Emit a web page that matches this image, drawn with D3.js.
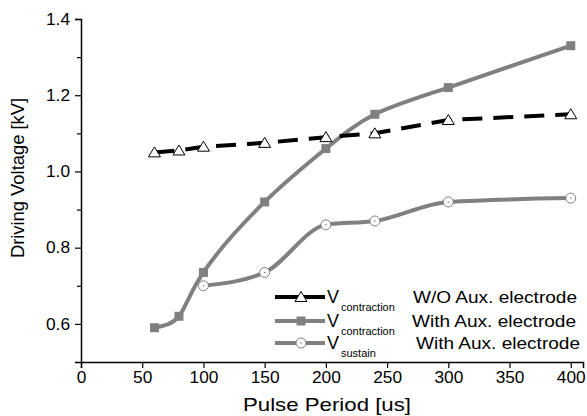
<!DOCTYPE html>
<html>
<head>
<meta charset="utf-8">
<script src="https://cdn.jsdelivr.net/npm/d3@7"></script>
<style>
  body { margin: 0; background: #fff; }
  svg text { font-family: "Liberation Sans", Arial, sans-serif; fill: #000; }
</style>
</head>
<body>
<div id="chart"></div>
<script>
// Data
const periodsA = [60, 80, 100, 150, 200, 240, 300, 400];
const contractionWO = [1.05, 1.055, 1.065, 1.075, 1.09, 1.10, 1.135, 1.15];
const contractionWith = [0.59, 0.62, 0.735, 0.92, 1.06, 1.15, 1.22, 1.33];
const periodsB = [100, 150, 200, 240, 300, 400];
const sustainWith = [0.70, 0.735, 0.86, 0.87, 0.92, 0.93];
const xTicks = [0, 50, 100, 150, 200, 250, 300, 350, 400];
const yTicks = [0.6, 0.8, 1.0, 1.2, 1.4];
const yMinor = [0.7, 0.9, 1.1, 1.3];
const legendLabels = [
  { sub: "contraction", note: "W/O Aux. electrode" },
  { sub: "contraction", note: "With Aux. electrode" },
  { sub: "sustain", note: "With Aux. electrode" }
];

const width = 587, height = 416;
const margin = { top: 19, right: 4, bottom: 54, left: 81 };

const svg = d3.select("#chart").append("svg")
  .attr("width", width).attr("height", height);

const x = d3.scaleLinear().domain([0, 410]).range([margin.left, width - margin.right]);
const y = d3.scaleLinear().domain([0.5, 1.4]).range([height - margin.bottom, margin.top]);

// the original's lettering is a little wider than Arial
function widen(sel, k) {
  sel.each(function () {
    const w = this.getComputedTextLength();
    d3.select(this).attr("textLength", w * k).attr("lengthAdjust", "spacingAndGlyphs");
  });
}

// axes
svg.append("g")
  .attr("transform", `translate(0,${y(0.5)})`)
  .call(d3.axisBottom(x).tickValues(xTicks).tickSize(6).tickPadding(4).tickFormat(d3.format("d")));
svg.append("g")
  .attr("transform", `translate(${x(0)},0)`)
  .call(d3.axisLeft(y).tickValues(yTicks).tickSize(6).tickPadding(5).tickFormat(d3.format(".1f")));
svg.append("g")
  .attr("transform", `translate(${x(0)},0)`)
  .call(d3.axisLeft(y).tickValues(yMinor).tickSize(4).tickFormat(""))
  .select(".domain").remove();

svg.selectAll(".domain").attr("stroke", "#000").attr("stroke-width", 1.5);
svg.selectAll(".tick line").attr("stroke", "#000").attr("stroke-width", 1.2);
svg.selectAll(".tick text").style("font-size", "16px").call(widen, 1.08);

svg.append("text")
  .attr("x", 327).attr("y", 411)
  .attr("text-anchor", "middle").style("font-size", "19px")
  .text("Pulse Period [us]").call(widen, 1.17);
svg.append("text")
  .attr("transform", `translate(24,178) rotate(-90)`)
  .attr("text-anchor", "middle").style("font-size", "18px")
  .text("Driving Voltage [kV]").call(widen, 1.02);

const gray = "#808080";

function series(xs, ys) { return xs.map((d, i) => ({ x: d, y: ys[i] })); }
const sA = series(periodsA, contractionWO);
const sB = series(periodsA, contractionWith);
const sC = series(periodsB, sustainWith);

const natural = d3.line().x(d => x(d.x)).y(d => y(d.y)).curve(d3.curveNatural);
const monotone = d3.line().x(d => x(d.x)).y(d => y(d.y)).curve(d3.curveMonotoneX);

svg.append("path").datum(sC).attr("d", monotone)
  .attr("fill", "none").attr("stroke", gray).attr("stroke-width", 4);
svg.append("path").datum(sB).attr("d", natural)
  .attr("fill", "none").attr("stroke", gray).attr("stroke-width", 4);
svg.append("path").datum(sA).attr("d", d3.line().x(d => x(d.x)).y(d => y(d.y)))
  .attr("fill", "none").attr("stroke", "#000").attr("stroke-width", 4)
  .attr("stroke-dasharray", "20,11");

// markers
function triangle(g, cx, cy) {
  g.append("path")
    .attr("d", `M${cx},${cy - 5.5} L${cx + 6},${cy + 4.5} L${cx - 6},${cy + 4.5} Z`)
    .attr("fill", "#fff").attr("stroke", "#000").attr("stroke-width", 1);
}
function square(g, cx, cy) {
  g.append("rect").attr("x", cx - 4.5).attr("y", cy - 4.5).attr("width", 9).attr("height", 9)
    .attr("fill", gray);
}
function circle(g, cx, cy) {
  g.append("circle").attr("cx", cx).attr("cy", cy).attr("r", 5)
    .attr("fill", "#fff").attr("stroke", gray).attr("stroke-width", 1);
  g.append("circle").attr("cx", cx).attr("cy", cy).attr("r", 0.8).attr("fill", gray);
}

const mk = svg.append("g");
sB.forEach(d => square(mk, x(d.x), y(d.y)));
sC.forEach(d => circle(mk, x(d.x), y(d.y)));
sA.forEach(d => triangle(mk, x(d.x), y(d.y)));

// legend
const legend = svg.append("g");
const rowY = [297, 321, 343];
const noteRight = [577, 576, 580];
const styles = [
  { stroke: "#000", mark: triangle },
  { stroke: gray, mark: square },
  { stroke: gray, mark: circle }
];
legendLabels.forEach((l, i) => {
  const yy = rowY[i];
  legend.append("line").attr("x1", 275).attr("x2", 325).attr("y1", yy).attr("y2", yy)
    .attr("stroke", styles[i].stroke).attr("stroke-width", 4);
  styles[i].mark(legend, 301, yy);
  legend.append("text").attr("x", 327).attr("y", yy + 6).style("font-size", "18px").text("V");
  legend.append("text").attr("x", 341).attr("y", yy + 14).style("font-size", "11px").text(l.sub);
  legend.append("text").attr("x", noteRight[i]).attr("y", yy + 6).attr("text-anchor", "end")
    .style("font-size", "17px").text(l.note).call(widen, 1.12);
});
</script>
</body>
</html>
